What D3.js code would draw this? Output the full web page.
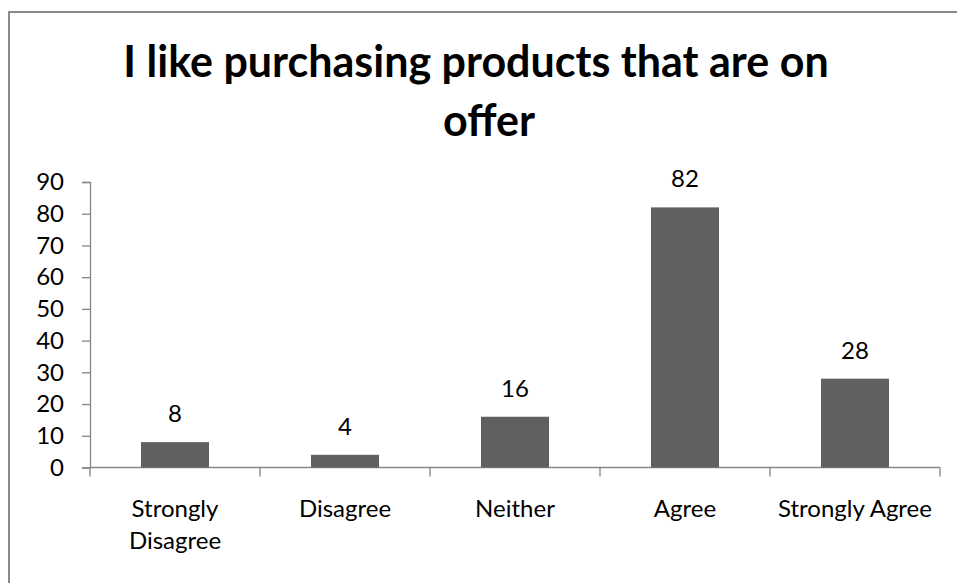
<!DOCTYPE html>
<html>
<head>
<meta charset="utf-8">
<script src="https://cdn.jsdelivr.net/npm/d3@7"></script>
<style>
  html, body { margin: 0; padding: 0; background: #fff; }
  svg { display: block; }
  text { font-family: Lato, "Open Sans", sans-serif; fill: #000; }
</style>
</head>
<body>
<svg id="chart" width="957" height="583"></svg>
<script>
// Survey responses
const categories = ["Strongly Disagree", "Disagree", "Neither", "Agree", "Strongly Agree"];
const categoryLines = [["Strongly", "Disagree"], ["Disagree"], ["Neither"], ["Agree"], ["Strongly Agree"]];
const counts = [8, 4, 16, 82, 28];
const yTicks = [0, 10, 20, 30, 40, 50, 60, 70, 80, 90];
const titleLines = ["I like purchasing products that are on", "offer"];

const svg = d3.select("#chart");

// outer chart frame
svg.append("rect")
  .attr("x", 9).attr("y", 12)
  .attr("width", 1200).attr("height", 1200)
  .attr("fill", "none").attr("stroke", "#8a8a8a").attr("stroke-width", 2);

const plot = { left: 90, right: 940, top: 182, bottom: 467.5 };

const x = d3.scaleBand()
  .domain(categories)
  .range([plot.left, plot.right])
  .paddingInner(0.6)
  .paddingOuter(0.3);

const y = d3.scaleLinear()
  .domain([0, 90])
  .range([plot.bottom, plot.top]);

// title (two wrapped lines)
svg.append("g").selectAll("text")
  .data(titleLines)
  .join("text")
  .attr("x", (d, i) => i === 0 ? 476 : 489)
  .attr("y", (d, i) => 77 + i * 59)
  .attr("text-anchor", "middle")
  .attr("font-weight", "bold")
  .attr("font-size", 43)
  .text(d => d);

// y axis
const yAxis = d3.axisLeft(y).tickValues(yTicks).tickSize(8).tickPadding(18);
const yg = svg.append("g")
  .attr("transform", `translate(${plot.left},0)`)
  .call(yAxis);
yg.selectAll("path.domain").attr("stroke", "#868686").attr("stroke-width", 1.3);
yg.selectAll(".tick line").attr("stroke", "#868686").attr("stroke-width", 1.3);
yg.selectAll(".tick text")
  .attr("font-family", "Lato, sans-serif")
  .attr("font-size", 24)
  .attr("fill", "#000");

// x axis line with boundary ticks
const boundaries = d3.range(categories.length + 1).map(i => plot.left + i * x.step());
const xg = svg.append("g");
xg.append("line")
  .attr("x1", plot.left).attr("x2", plot.right)
  .attr("y1", plot.bottom).attr("y2", plot.bottom)
  .attr("stroke", "#868686").attr("stroke-width", 1.3);
xg.selectAll("line.tk")
  .data(boundaries)
  .join("line")
  .attr("class", "tk")
  .attr("x1", d => d).attr("x2", d => d)
  .attr("y1", plot.bottom).attr("y2", plot.bottom + 9)
  .attr("stroke", "#868686").attr("stroke-width", 1.3);

// category labels
const catG = svg.append("g").selectAll("text")
  .data(categories)
  .join("text")
  .attr("x", d => x(d) + x.bandwidth() / 2)
  .attr("y", 517)
  .attr("text-anchor", "middle")
  .attr("font-size", 24);
catG.selectAll("tspan")
  .data((d, i) => categoryLines[i])
  .join("tspan")
  .attr("x", function() { return this.parentNode.getAttribute("x"); })
  .attr("dy", (d, i) => i === 0 ? 0 : 32)
  .text(d => d);

// bars
svg.append("g").selectAll("rect")
  .data(counts)
  .join("rect")
  .attr("x", (d, i) => x(categories[i]))
  .attr("y", d => y(d))
  .attr("width", x.bandwidth())
  .attr("height", d => y(0) - y(d))
  .attr("fill", "#606060");

// value labels
svg.append("g").selectAll("text")
  .data(counts)
  .join("text")
  .attr("x", (d, i) => x(categories[i]) + x.bandwidth() / 2)
  .attr("y", d => y(d) - 20)
  .attr("text-anchor", "middle")
  .attr("font-size", 24)
  .text(d => d);
</script>
</body>
</html>
